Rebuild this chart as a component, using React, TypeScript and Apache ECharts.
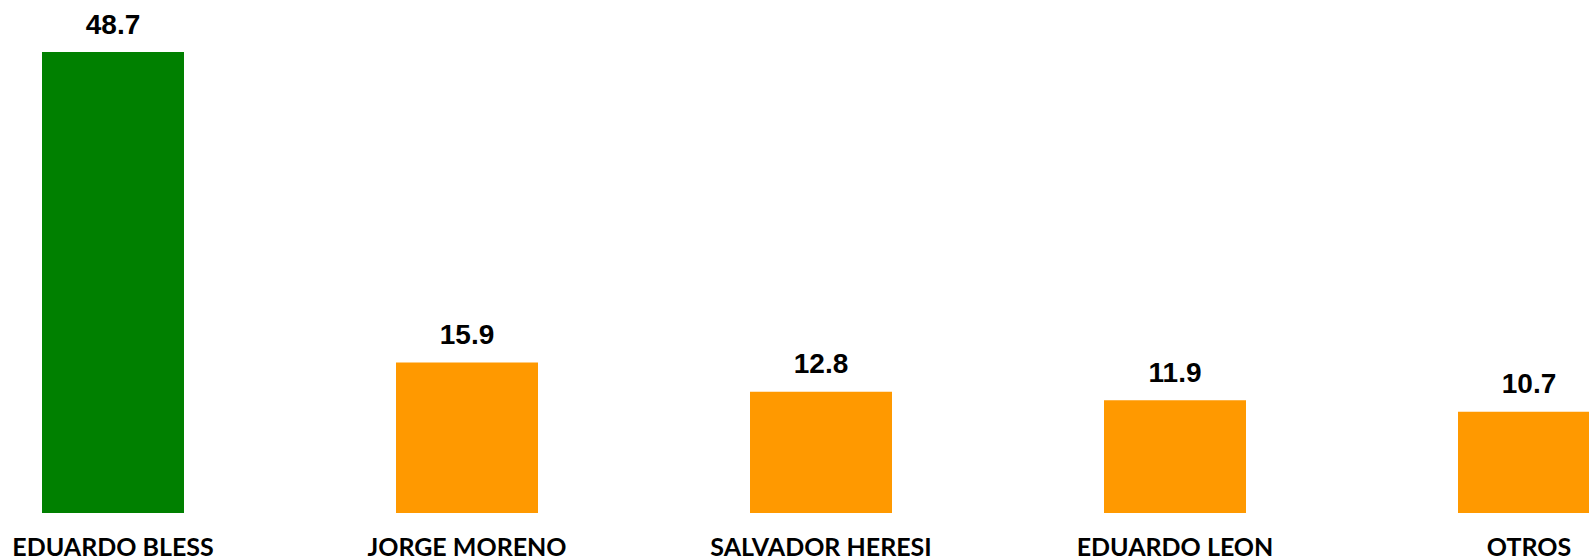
import React, { useEffect, useRef } from "react";
import * as echarts from "echarts";

const categories = ["EDUARDO BLESS", "JORGE MORENO", "SALVADOR HERESI", "EDUARDO LEON", "OTROS"];
const values = [48.7, 15.9, 12.8, 11.9, 10.7];
const barColors = ["#008000", "#FF9900", "#FF9900", "#FF9900", "#FF9900"];

export default function App() {
  const ref = useRef<HTMLDivElement>(null);
  useEffect(() => {
    if (!ref.current) return;
    const chart = echarts.init(ref.current, null, { renderer: "svg" });
    chart.setOption({
      animation: false,
      backgroundColor: "#ffffff",
      grid: { left: 0, right: 0, bottom: 46, top: 39.7, containLabel: false },
      xAxis: {
        type: "category",
        data: categories,
        axisLine: { show: false },
        axisTick: { show: false },
        axisLabel: {
          interval: 0,
          margin: 20,
          color: "#000000",
          fontFamily: "Lato",
          fontWeight: "bold",
          fontSize: 25,
        },
      },
      yAxis: {
        type: "value",
        min: 0,
        max: 50,
        show: false,
        splitLine: { show: false },
      },
      series: [
        {
          type: "bar",
          barWidth: 142,
          data: values.map((v, i) => ({ value: v, itemStyle: { color: barColors[i] } })),
          label: {
            show: true,
            position: "top",
            distance: 14,
            color: "#000000",
            fontFamily: "Liberation Sans, Arial",
            fontWeight: "bold",
            fontSize: 28,
            formatter: (p: any) => p.value.toFixed(1),
          },
        },
      ],
    });
    return () => chart.dispose();
  }, []);
  return (
    <div
      style={{ position: "fixed", left: 0, top: 0, width: 1589, height: 559, overflow: "hidden", background: "#fff" }}
    >
      <div ref={ref} style={{ position: "absolute", left: -64, top: 0, width: 1770, height: 559 }} />
    </div>
  );
}
